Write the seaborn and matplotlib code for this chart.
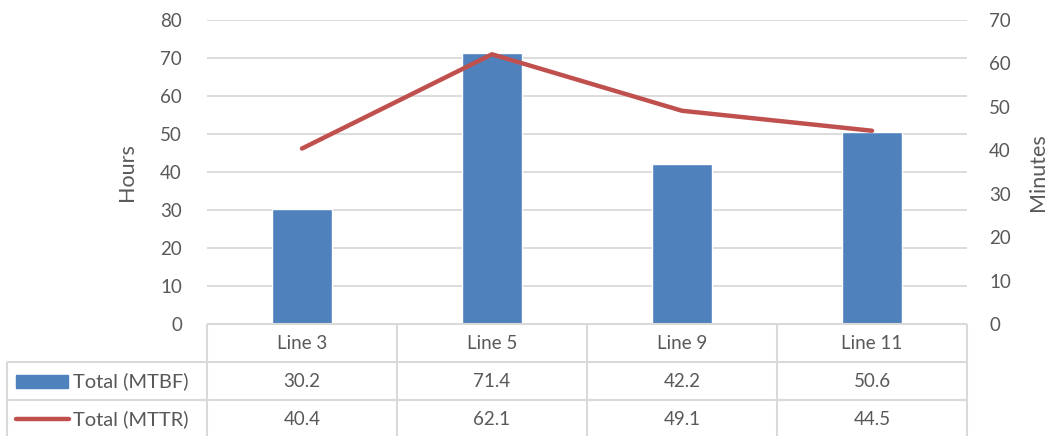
import matplotlib
matplotlib.use("Agg")
import matplotlib.pyplot as plt
import seaborn as sns
import pandas as pd
from matplotlib.patches import Rectangle

lines = ["Line 3", "Line 5", "Line 9", "Line 11"]
mtbf = [30.2, 71.4, 42.2, 50.6]
mttr = [40.4, 62.1, 49.1, 44.5]
series_names = ["Total (MTBF)", "Total (MTTR)"]

blue = "#4F81BD"
red = "#C0504D"
grid = "#D9D9D9"
txt = "#595959"

sns.set_style("white")
plt.rcParams["font.family"] = ["Lato", "DejaVu Sans"]
plt.rcParams["font.size"] = 13.5

veri = pd.DataFrame({"Line": lines, "MTBF": mtbf, "MTTR": mttr})

W, H = 1054, 436
fig = plt.figure(figsize=(W / 100, H / 100), dpi=100)

# ana grafik alanı
ax = fig.add_axes([207 / W, 1 - 324 / H, 760 / W, 304 / H])
sns.barplot(data=veri, x="Line", y="MTBF", color=blue, width=0.316,
            saturation=1, ax=ax, zorder=3)
ax.set_ylim(0, 80)
ax.set_yticks(range(0, 81, 10))
ax.set_xlim(-0.5, 3.5)
ax.grid(axis="y", color=grid, lw=1.3, zorder=0)
ax.set_axisbelow(True)
for s in ax.spines.values():
    s.set_visible(False)
ax.set_xticks([])
ax.set_xlabel("")
ax.set_ylabel("Hours", color=txt, fontsize=15.5, labelpad=17)
ax.tick_params(axis="y", length=0, pad=18, labelcolor=txt, labelsize=13.5)

ax2 = ax.twinx()
sns.lineplot(data=veri, x="Line", y="MTTR", color=red, lw=3.2, ax=ax2,
             solid_capstyle="round")
ax2.set_ylim(0, 70)
ax2.set_yticks(range(0, 71, 10))
ax2.set_xlim(-0.5, 3.5)
for s in ax2.spines.values():
    s.set_visible(False)
ax2.set_xticks([])
ax2.set_xlabel("")
ax2.set_ylabel("Minutes", color=txt, fontsize=15.5, labelpad=12)
ax2.tick_params(axis="y", length=0, pad=16, labelcolor=txt, labelsize=13.5)

# veri tablosu
xl = -0.5 - 200 / 190
tb = fig.add_axes([7 / W, 0, 960 / W, 112 / H])
rows = 112 / 38
tb.set_xlim(xl, 3.5)
tb.set_ylim(rows, 0)
tb.axis("off")
lc = dict(color=grid, lw=1.5, clip_on=False, solid_capstyle="butt")
tb.plot([-0.5, 3.5], [0, 0], **lc)
for r in [1, 2]:
    tb.plot([xl, 3.5], [r, r], **lc)
for i in range(5):
    tb.plot([-0.5 + i, -0.5 + i], [0, rows + 0.1], **lc)
tb.plot([xl, xl], [1, rows + 0.1], **lc)

for i, name in enumerate(lines):
    tb.text(i, 0.5, name, ha="center", va="center", color=txt, fontsize=13.5)
    tb.text(i, 1.5, f"{mtbf[i]:.1f}", ha="center", va="center", color=txt, fontsize=13.5)
    tb.text(i, 2.5, f"{mttr[i]:.1f}", ha="center", va="center", color=txt, fontsize=13.5)

# lejant anahtarları
px = 1 / 190
tb.add_patch(Rectangle((xl + 9 * px, 1.33), 52 * px, 0.36, color=blue, clip_on=False))
tb.plot([xl + 9 * px, xl + 62 * px], [2.5, 2.5], color=red, lw=3.2,
        solid_capstyle="round", clip_on=False)
tb.text(xl + 66 * px, 1.5, series_names[0], ha="left", va="center", color=txt, fontsize=14.5)
tb.text(xl + 66 * px, 2.5, series_names[1], ha="left", va="center", color=txt, fontsize=14.5)

fig.savefig("out.png", dpi=100)
